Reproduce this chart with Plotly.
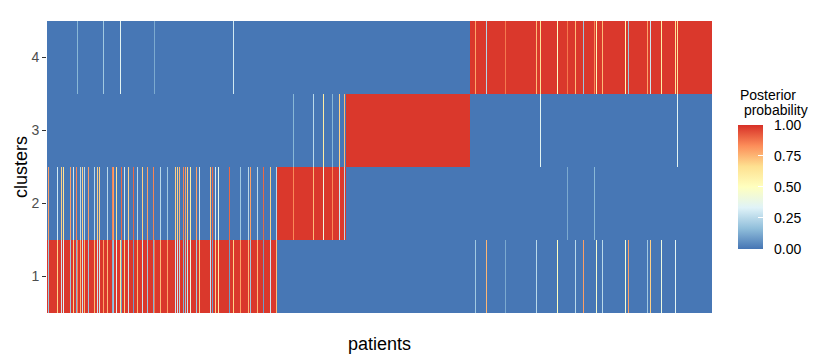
import plotly.graph_objects as go

# ---------------- data ----------------
clusters = [1, 2, 3, 4]
block_sizes = [230, 69, 124, 242]          # patients ordered by assigned cluster 1..4
background_prob = 0.005                     # posterior of non-assigned clusters

# patients with split posteriors: index, secondary cluster, secondary probability
mix_patient = [1, 10, 14, 16, 23, 26, 29, 33, 35, 37, 41, 47, 50, 52, 60, 65, 66, 69,
               74, 77, 81, 86, 90, 95, 100, 106, 113, 120, 128, 130, 132, 136, 138,
               140, 143, 149, 152, 163, 165, 168, 171, 182, 193, 201, 203, 210, 216,
               223, 229,
               30, 56, 73, 107, 186,
               246, 266, 276, 285, 292, 297,
               428, 439, 458, 489, 493, 510, 528, 536, 549, 555, 578, 581, 600, 603,
               614, 628, 520, 547, 630]
mix_cluster = [2] * 49 + [4] * 5 + [3] * 6 + [1] * 16 + [2, 2, 3]
mix_cluster[64] = 3  # patient 493 shares with cluster 3
mix_share = [0.80, 0.30, 0.70, 0.65, 0.80, 0.30, 0.85, 0.25, 0.70, 0.25, 0.80, 0.25,
             0.70, 0.70, 0.25, 0.85, 0.80, 0.65, 0.90, 0.30, 0.70, 0.90, 0.25, 0.70,
             0.80, 0.85, 0.25, 0.20, 0.70, 0.70, 0.75, 0.85, 0.80, 0.70, 0.60, 0.80,
             0.30, 0.70, 0.90, 0.30, 0.40, 0.90, 0.20, 0.25, 0.80, 0.25, 0.90, 0.70,
             0.25,
             0.15, 0.20, 0.35, 0.12, 0.30,
             0.15, 0.25, 0.60, 0.15, 0.70, 0.75,
             0.20, 0.75, 0.12, 0.25, 0.35, 0.50, 0.25, 0.80, 0.45, 0.25, 0.45, 0.80,
             0.20, 0.70, 0.40, 0.35, 0.12, 0.15, 0.35]

tick_vals = [0, 0.25, 0.5, 0.75, 1]
tick_text = ["0.00", "0.25", "0.50", "0.75", "1.00"]
legend_title_lines = ["Posterior", "\u00a0probability"]

# ---------------- build matrix ----------------
assigned = []
for c, n in zip(clusters, block_sizes):
    assigned += [c] * n
N = len(assigned)
z = [[background_prob] * N for _ in clusters]
for i, c in enumerate(assigned):
    z[c - 1][i] = 1 - background_prob * 3
for i, c2, s in zip(mix_patient, mix_cluster, mix_share):
    m = assigned[i]
    z[c2 - 1][i] = s
    z[m - 1][i] = max(0.0, 1 - s - background_prob * 2)

colorscale = [[0.0, "#4575b4"], [1/6, "#91bfdb"], [2/6, "#e0f3f8"], [0.5, "#ffffbf"],
              [4/6, "#fee090"], [5/6, "#fc8d59"], [1.0, "#d73027"]]

FONT = "Liberation Sans, Arial, sans-serif"

# figure geometry (page body adds an 8px offset)
W, H = 822, 355
ML, MR, MT, MB = 39, 118, 13, 50
PW, PH = W - ML - MR, H - MT - MB

fig = go.Figure(go.Heatmap(
    z=z, x=list(range(N)), y=clusters,
    colorscale=colorscale, zmin=0, zmax=1, xgap=0, ygap=0,
    colorbar=dict(
        xref="container", yref="container",
        x=730 / W, xanchor="left", y=1 - 142 / H, yanchor="top",
        lenmode="pixels", len=124, thickness=25, outlinewidth=0,
        tickvals=tick_vals, ticktext=["\u00a0\u00a0" + t for t in tick_text],
        ticks="inside", tickcolor="white", ticklen=5, xpad=0, ypad=0,
        tickfont=dict(size=14, color="black", family=FONT),
    ),
))

for line, fy in zip(legend_title_lines, [87, 102]):
    fig.add_annotation(
        text=line, showarrow=False, xref="paper", yref="paper",
        x=(730 - ML) / PW, xanchor="left",
        y=(MT + PH - fy) / PH, yanchor="middle", align="left",
        font=dict(size=14, color="black", family=FONT),
    )

# y-axis title
fig.add_annotation(
    text="clusters", showarrow=False, xref="paper", yref="paper",
    x=(13 - ML) / PW, xanchor="center", y=0.5, yanchor="middle", textangle=-90,
    font=dict(size=18, color="black", family=FONT),
)

fig.update_layout(
    width=W, height=H,
    margin=dict(l=ML, r=MR, t=MT, b=MB, autoexpand=False),
    paper_bgcolor="white", plot_bgcolor="white",
    font=dict(family=FONT),
    xaxis=dict(range=[-0.5, N - 0.5], showticklabels=False, ticks="", showgrid=False,
               zeroline=False, automargin=False,
               title=dict(text="patients", font=dict(size=18, color="black"), standoff=24)),
    yaxis=dict(range=[0.5, 4.5], tickvals=clusters, ticks="outside", ticklen=4,
               tickcolor="#333333", tickfont=dict(size=14, color="#4D4D4D"),
               showgrid=False, zeroline=False, automargin=False),
)

fig.write_html("out.html")
